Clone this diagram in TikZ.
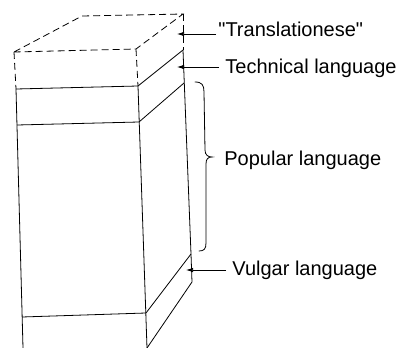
\documentclass[tikz,border=0pt]{standalone}
\usepackage{fontspec}
\setmainfont{Liberation Sans}[Ligatures=TeXOff]
\usetikzlibrary{arrows.meta}
\begin{document}
\begin{tikzpicture}[x=1pt,y=-1pt,line width=0.8pt,
  edge/.style={line join=round},
  dashedge/.style={dashed,dash pattern=on 7pt off 4pt},
  lbl/.style={anchor=base west,inner sep=0pt,font=\fontsize{20}{22}\selectfont},
  pointer/.style={-{Latex[length=7pt,width=4.5pt]},line width=0.7pt}]
\useasboundingbox (0,0) rectangle (405,348);
% corners
\coordinate (D) at (82,16);
\coordinate (C) at (183,14);
\coordinate (A) at (14,52);
\coordinate (B) at (136,49);
\coordinate (E) at (16,89);
\coordinate (F) at (138,86);
\coordinate (G) at (183,50);
\coordinate (H1) at (17,125);
\coordinate (H2) at (139,122);
\coordinate (H3) at (184,83);
\coordinate (K1) at (22,317);
\coordinate (K2) at (146,313);
\coordinate (K3) at (191,254);
\coordinate (K4) at (192,282);
\coordinate (LB) at (23,348);
\coordinate (RB) at (147,348);
% dashed top block
\draw[dashedge] (A) -- (D) -- (C) -- (B) -- cycle;
\draw[dashedge] (A) -- (E);
\draw[dashedge] (B) -- (F);
\draw[dashedge] (C) -- (G);
% solid column
\draw[edge] (E) -- (F) -- (G);
\draw[edge] (H1) -- (H2) -- (H3);
\draw[edge] (K1) -- (K2) -- (K3);
\draw[edge] (E) -- (LB);
\draw[edge] (F) -- (RB);
\draw[edge] (G) -- (K3) -- (K4) -- (RB);
% labels
\node[lbl] (tr) at (218,37) {"Translationese"};
\node[lbl] (te) at (225,73) {Technical language};
\node[lbl] (po) at (224,165) {Popular language};
\node[lbl] (vu) at (232,275) {Vulgar language};
% arrows
\coordinate (trA) at (177,34);
\coordinate (teA) at (177,67);
\coordinate (vuA) at (186,270);
\draw[pointer] ([xshift=-2pt]tr.west |- trA) -- (trA);
\draw[pointer] ([xshift=-6pt]te.west |- teA) -- (teA);
\draw[pointer] ([xshift=-6pt]vu.west |- vuA) -- (vuA);
% brace
\draw[line cap=round] (195,82) .. controls (202,82) and (204,85) .. (204,92)
  -- (205,150) .. controls (205,155) and (208,157) .. (212,157)
  .. controls (208,157) and (206,159) .. (206,164)
  -- (206,243) .. controls (206,249) and (204,251) .. (199,251);
\end{tikzpicture}
\end{document}
